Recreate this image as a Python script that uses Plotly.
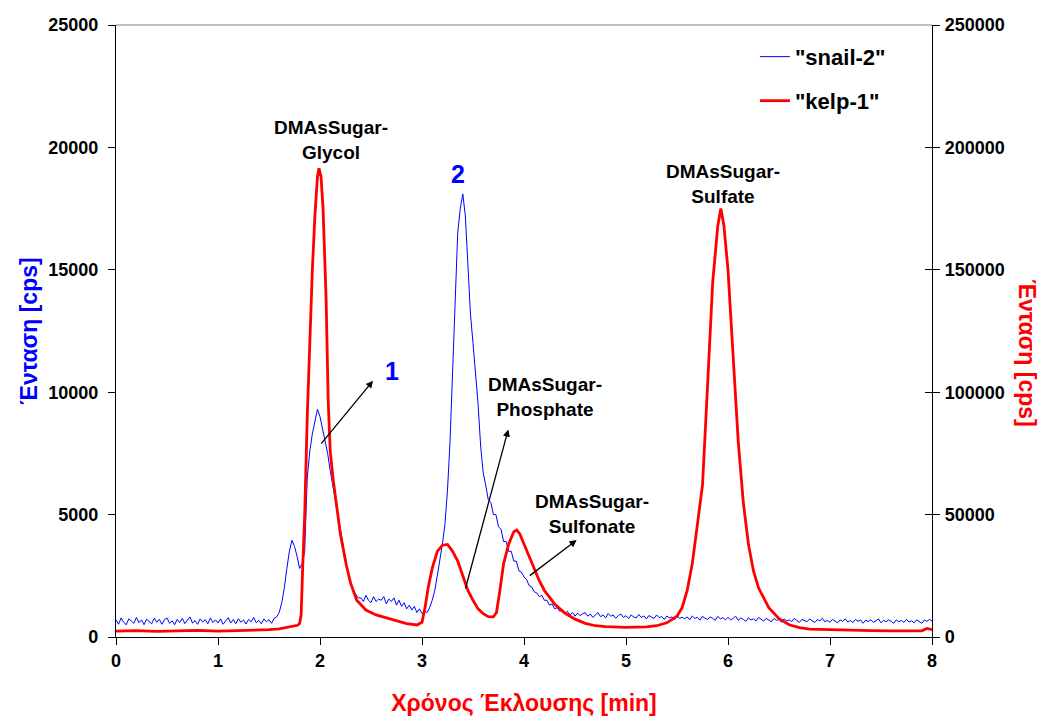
import numpy as np
import plotly.graph_objects as go

# ---- snail-2 extract (left axis, cps), sampled every 0.025 min from 0 to 8 min ----
snail_step = 0.025
snail_cps = [
    700, 520, 780, 600, 500, 740, 650, 560,
    800, 580, 700, 500, 730, 620, 540, 770,
    600, 720, 520, 710, 780, 560, 660, 500,
    720, 590, 760, 550, 680, 820, 570, 670,
    520, 740, 610, 710, 540, 780, 590, 700,
    570, 740, 520, 680, 790, 580, 710, 540,
    750, 600, 700, 530, 720, 620, 800, 580,
    680, 540, 740, 620, 710, 560, 760, 820,
    1000, 1400, 2000, 2800, 3500, 3950, 3700, 3300,
    2800, 3000, 3500, 6500, 7600, 8300, 8800, 9300,
    9000, 8500, 8000, 7500, 6800, 6200, 5500, 5000,
    4400, 3700, 3100, 2600, 2200, 1900, 1750, 1600,
    1600, 1450, 1700, 1500, 1400, 1650, 1450, 1550,
    1500, 1650, 1350, 1550, 1450, 1600, 1300, 1500,
    1250, 1400, 1150, 1300, 1100, 1250, 1000, 1150,
    950, 1050, 1000, 1200, 1500, 1900, 2500, 3100,
    3800, 4600, 6000, 8000, 11000, 14000, 16500, 17500,
    18100, 17200, 15200, 13200, 12000, 10800, 9500, 7800,
    6700, 6200, 5600, 5500, 5000, 5000, 4500, 4400,
    3900, 3900, 3500, 3500, 3100, 3100, 2700, 2650,
    2450, 2350, 2100, 2050, 1850, 1800, 1650, 1700,
    1500, 1500, 1300, 1350, 1150, 1200, 1050, 1100,
    950, 1050, 900, 1000, 850, 980, 870, 950,
    1000, 850, 940, 800, 920, 1000, 830, 900,
    780, 960, 850, 900, 760, 880, 940, 800,
    870, 750, 900, 820, 780, 920, 800, 860,
    740, 880, 810, 760, 900, 790, 840, 720,
    860, 780, 820, 700, 880, 760, 810, 740,
    820, 700, 860, 760, 800, 690, 850, 760,
    720, 820, 760, 680, 840, 740, 790, 700,
    800, 700, 760, 850, 680, 780, 720, 640,
    780, 700, 740, 660, 800, 720, 650, 760,
    690, 620, 760, 680, 720, 600, 740, 660,
    700, 630, 760, 670, 600, 720, 680, 620,
    740, 650, 590, 710, 660, 760, 620, 680,
    600, 720, 650, 580, 700, 640, 740, 610,
    680, 590, 720, 640, 700, 560, 690, 630,
    700, 600, 660, 740, 580, 680, 620, 700,
    640, 560, 700, 620, 680, 590, 720, 610,
    660, 580, 700, 620, 560, 690, 640, 720,
    650,
]
snail_time = np.round(np.arange(len(snail_cps)) * snail_step, 3)

# ---- kelp-1 extract (right axis, cps) ----
kelp_time = [
    0.0, 0.2, 0.4, 0.6, 0.8, 1.0, 1.2, 1.4, 1.5, 1.6, 1.65, 1.7, 1.75, 1.78,
    1.8, 1.815, 1.83, 1.85, 1.875, 1.9, 1.925, 1.95, 1.975, 1.99, 2.0, 2.01,
    2.03, 2.06, 2.08, 2.1, 2.13, 2.16, 2.2, 2.26, 2.3, 2.36, 2.45, 2.55, 2.62,
    2.75, 2.85, 2.95, 3.0, 3.03, 3.06, 3.1, 3.15, 3.2, 3.25, 3.3, 3.35, 3.4,
    3.45, 3.5, 3.55, 3.6, 3.65, 3.7, 3.73, 3.76, 3.8, 3.85, 3.9, 3.93, 3.96,
    4.0, 4.05, 4.1, 4.15, 4.2, 4.3, 4.4, 4.5, 4.6, 4.7, 4.8, 5.0, 5.2, 5.3,
    5.4, 5.5, 5.55, 5.6, 5.65, 5.7, 5.75, 5.8, 5.85, 5.9, 5.93, 5.96, 6.0,
    6.05, 6.1, 6.15, 6.2, 6.25, 6.3, 6.4, 6.5, 6.6, 6.7, 6.8, 7.0, 7.2, 7.4,
    7.6, 7.8, 7.9, 7.95, 8.0,
]
kelp_cps = [
    2400, 2600, 2300, 2500, 2700, 2400, 2600, 2800, 3000, 3300, 3800, 4200, 4600, 4800,
    5500, 9000, 28000, 50000, 90000, 125000, 150000, 172000, 188000, 191500, 190000, 188000,
    175000, 138000, 97000, 76000, 64000, 55000, 42000, 29000, 22000, 15000, 11000, 9000, 8200,
    6500, 5500, 4900, 6000, 12000, 20000, 28000, 35000, 37500, 37800, 35000, 31000, 25000,
    19000, 15000, 11500, 9500, 8300, 8200, 10000, 18000, 30000, 38000, 43000, 43700, 42000,
    38000, 33000, 28000, 23000, 19000, 13500, 9800, 7300, 5600, 4600, 4200, 3900, 4100, 4600,
    5800, 8500, 12000, 19000, 30000, 45000, 62000, 103000, 145000, 168000, 175000, 168000, 150000,
    115000, 80000, 55000, 38000, 27000, 20000, 12000, 7500, 5000, 3800, 3200, 2900, 2700, 2600,
    2500, 2400, 2500, 3500, 3000,
]

# ---- axes ----
x_ticks = [0, 1, 2, 3, 4, 5, 6, 7, 8]
left_ticks = [0, 5000, 10000, 15000, 20000, 25000]
right_ticks = [0, 50000, 100000, 150000, 200000, 250000]

# ---- peak labels: (time, cps on left axis, text) ----
peak_labels = [
    (2.11, 20300, "DMAsSugar-<br>Glycol"),
    (4.21, 9800, "DMAsSugar-<br>Phosphate"),
    (4.67, 5020, "DMAsSugar-<br>Sulfonate"),
    (5.95, 18500, "DMAsSugar-<br>Sulfate"),
]
peak_numbers = [(2.71, 10870, "1"), (3.356, 18910, "2")]
# arrows: (head time, head cps, tail time, tail cps)
pointer_arrows = [
    (2.52, 10470, 2.0, 7840),
    (3.846, 8480, 3.422, 1920),
    (4.516, 3960, 4.042, 2460),
]

FONT = "Liberation Sans, Arial, sans-serif"
BLUE = "#0000FF"
RED = "#FF0000"

fig = go.Figure()
fig.add_trace(go.Scatter(
    x=snail_time, y=snail_cps, mode="lines", name='"snail-2"',
    line=dict(color=BLUE, width=1), yaxis="y", legend="legend",
))
fig.add_trace(go.Scatter(
    x=kelp_time, y=kelp_cps, mode="lines", name='"kelp-1"',
    line=dict(color=RED, width=2.8), yaxis="y2", legend="legend2",
))

annotations = []
for t, v, txt in peak_labels:
    annotations.append(dict(
        x=t, y=v, xref="x", yref="y", text=f"<b>{txt}</b>", showarrow=False,
        font=dict(family=FONT, size=19, color="black"), align="center",
        xanchor="center", yanchor="middle",
    ))
for t, v, txt in peak_numbers:
    annotations.append(dict(
        x=t, y=v, xref="x", yref="y", text=f"<b>{txt}</b>", showarrow=False,
        font=dict(family=FONT, size=25, color=BLUE),
        xanchor="center", yanchor="middle",
    ))
for hx, hy, tx, ty in pointer_arrows:
    annotations.append(dict(
        x=hx, y=hy, xref="x", yref="y", ax=tx, ay=ty, axref="x", ayref="y",
        text="", showarrow=True, arrowhead=2, arrowsize=1.1, arrowwidth=1.3,
        arrowcolor="black",
    ))
# right-hand axis title, reading top to bottom
annotations.append(dict(
    x=1, y=0.465, xref="paper", yref="paper", xshift=95,
    text="<b>Ένταση [cps]</b>", textangle=90, showarrow=False,
    font=dict(family=FONT, size=23, color=RED),
    xanchor="center", yanchor="middle",
))

fig.update_layout(
    width=1039, height=716,
    margin=dict(l=116, r=107, t=25, b=79),
    paper_bgcolor="white", plot_bgcolor="white",
    font=dict(family=FONT, size=18, color="black"),
    xaxis=dict(
        range=[0, 8], tickvals=x_ticks, ticktext=[f"<b>{v}</b>" for v in x_ticks],
        showline=True, linecolor="black", linewidth=1.2, automargin=False,
        ticks="outside", ticklen=7, tickcolor="black", showgrid=False, zeroline=False,
        title=dict(text="<b>Χρόνος Έκλουσης [min]</b>", standoff=30,
                   font=dict(family=FONT, size=23, color=RED)),
    ),
    yaxis=dict(
        range=[0, 25000], tickvals=left_ticks, ticktext=[f"<b>{v}</b>" for v in left_ticks],
        showline=True, linecolor="black", linewidth=1.2, mirror="ticks", automargin=False,
        ticks="outside", ticklen=7, tickcolor="black", showgrid=False, zeroline=False,
        ticklabelstandoff=6,
        title=dict(text="<b>Ένταση [cps]</b>", standoff=4,
                   font=dict(family=FONT, size=23, color=BLUE)),
    ),
    yaxis2=dict(
        range=[0, 250000], tickvals=right_ticks, ticktext=[f"<b>{v}</b>" for v in right_ticks],
        overlaying="y", side="right", showline=True, linecolor="black", linewidth=1.2,
        automargin=False,
        ticks="inside", ticklen=7, tickcolor="black", showgrid=False, zeroline=False,
        ticklabelstandoff=8,
    ),
    legend=dict(
        x=0.783, y=0.948, xanchor="left", yanchor="middle",
        bgcolor="rgba(0,0,0,0)", font=dict(family=FONT, size=22, color="black"),
    ),
    legend2=dict(
        x=0.783, y=0.876, xanchor="left", yanchor="middle",
        bgcolor="rgba(0,0,0,0)", font=dict(family=FONT, size=22, color="black"),
    ),
    showlegend=True,
    annotations=annotations,
    shapes=[dict(type="line", xref="paper", yref="paper", x0=0, x1=1, y0=1, y1=1,
                 line=dict(color="#808080", width=1))],
)
for tr in fig.data:
    tr.name = f"<b>{tr.name}</b>"

fig.write_html("out.html")
